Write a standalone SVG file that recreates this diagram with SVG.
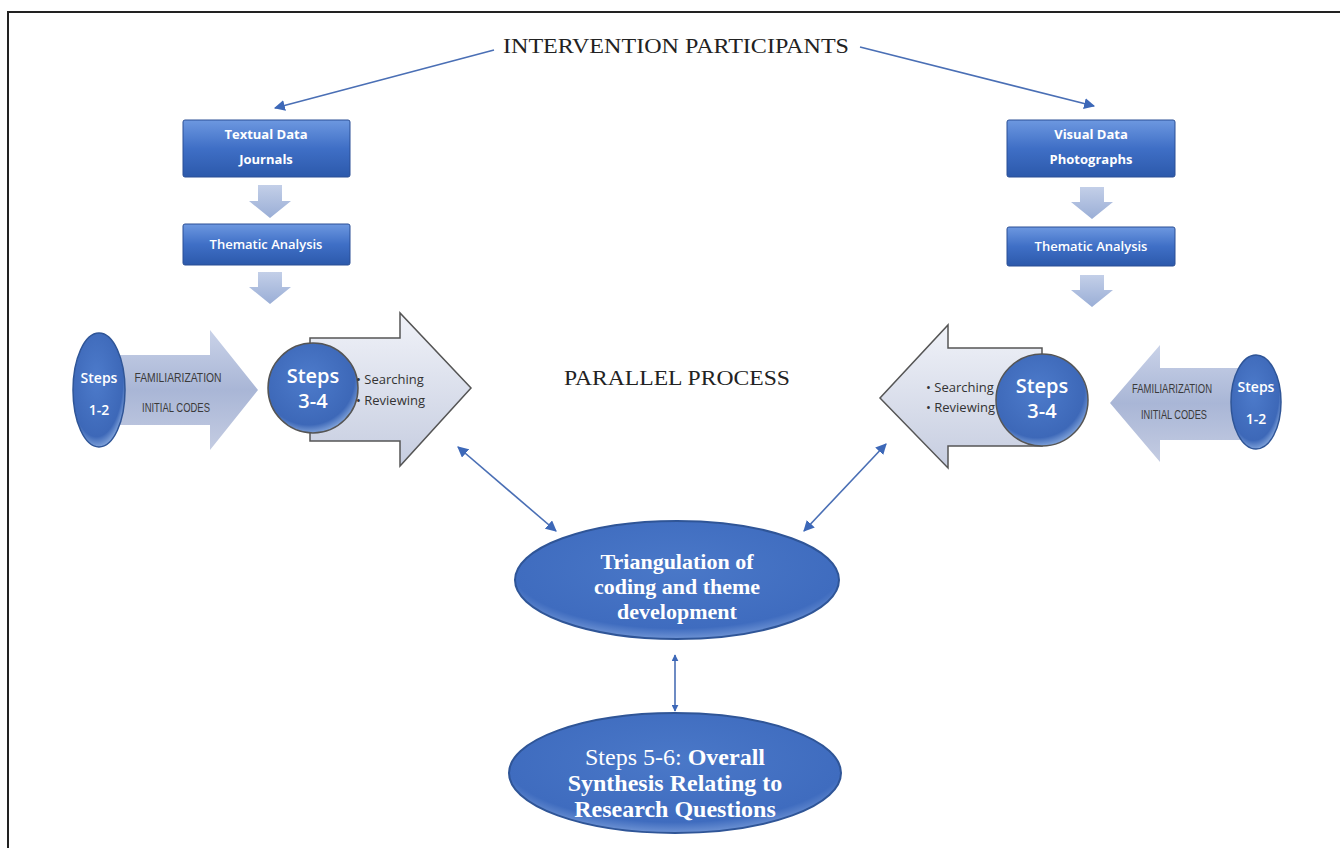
<svg xmlns="http://www.w3.org/2000/svg" width="1340" height="848" viewBox="0 0 1340 848">
<style>
.serif{font-family:"Liberation Serif","Times New Roman",serif}
.boxt{font-family:"Open Sans","Liberation Sans",sans-serif;fill:#fff;font-size:13px;text-anchor:middle}
.cap{font-family:"Liberation Sans",sans-serif;fill:#3a3a3a;font-size:13px;text-anchor:middle}
.bul{font-family:"Open Sans","Liberation Sans",sans-serif;fill:#333;font-size:13px}
.stp{font-family:"Open Sans","Liberation Sans",sans-serif;fill:#fff;text-anchor:middle}
.conn{stroke:#4a6fb5;stroke-width:1.6;fill:none}
.ell{fill:url(#gEll);stroke:#2f5597;stroke-width:2}
.ellt{font-family:"Liberation Serif","Times New Roman",serif;fill:#fff;text-anchor:middle;font-weight:bold}
.chev{fill:url(#gChev)}
.box{fill:url(#gBox);stroke:#2b4f95;stroke-width:1}
.bigarrow{fill:url(#gGrey);stroke:#555;stroke-width:1.5}
.smallarrow{fill:url(#gGreyB)}
</style>
<defs>
<linearGradient id="gBox" x1="0" y1="0" x2="0" y2="1">
<stop offset="0" stop-color="#6d98e0"/><stop offset="0.5" stop-color="#3f6fc6"/><stop offset="1" stop-color="#2c59ab"/>
</linearGradient>
<linearGradient id="gChev" x1="0" y1="0" x2="0" y2="1">
<stop offset="0" stop-color="#c3cfe8"/><stop offset="1" stop-color="#9aaed6"/>
</linearGradient>
<linearGradient id="gGrey" x1="0" y1="0" x2="0" y2="1">
<stop offset="0" stop-color="#f0f2f8"/><stop offset="1" stop-color="#c6cde0"/>
</linearGradient>
<linearGradient id="gGreyB" x1="0" y1="0" x2="0" y2="1">
<stop offset="0" stop-color="#c9d2e8"/><stop offset="0.5" stop-color="#a9b6d6"/><stop offset="1" stop-color="#c4cce2"/>
</linearGradient>
<radialGradient id="gEll" cx="0.5" cy="0.4" r="0.6">
<stop offset="0" stop-color="#4a78c8"/><stop offset="0.85" stop-color="#3f6cbf"/><stop offset="1" stop-color="#6e93d4"/>
</radialGradient>
<radialGradient id="gCirc" cx="0.45" cy="0.4" r="0.6">
<stop offset="0" stop-color="#4d7bcb"/><stop offset="0.85" stop-color="#3d68b8"/><stop offset="1" stop-color="#7c9fd8"/>
</radialGradient>
<marker id="ah" viewBox="0 0 10 10" refX="9" refY="5" markerWidth="7" markerHeight="7" orient="auto-start-reverse" markerUnits="userSpaceOnUse">
<path d="M0,0 L10,5 L0,10 z" fill="#3d68b8"/>
</marker>
<marker id="ah2" viewBox="0 0 10 10" refX="9" refY="5" markerWidth="11" markerHeight="11" orient="auto-start-reverse" markerUnits="userSpaceOnUse">
<path d="M0,0 L10,5 L0,10 z" fill="#3d68b8"/>
</marker>
</defs>
<rect width="1340" height="848" fill="#fff"/>
<path d="M8,848 L8,12 L1340,12" fill="none" stroke="#222" stroke-width="2"/>

<g id="title"><text class="serif" x="676" y="53" font-size="21" text-anchor="middle" fill="#222" textLength="346" lengthAdjust="spacingAndGlyphs">INTERVENTION PARTICIPANTS</text></g>
<g id="parallel"><text class="serif" x="677" y="385" font-size="20" text-anchor="middle" fill="#222" textLength="226" lengthAdjust="spacingAndGlyphs">PARALLEL PROCESS</text></g>

<g id="connectors">
<line class="conn" x1="494" y1="50" x2="275" y2="108" marker-end="url(#ah2)"/>
<line class="conn" x1="860" y1="47" x2="1094" y2="106" marker-end="url(#ah2)"/>
<line class="conn" x1="458" y1="447" x2="556" y2="531" marker-start="url(#ah2)" marker-end="url(#ah2)"/>
<line class="conn" x1="886" y1="444" x2="804" y2="531" marker-start="url(#ah2)" marker-end="url(#ah2)"/>
<line class="conn" x1="675" y1="655" x2="675" y2="711" marker-start="url(#ah)" marker-end="url(#ah)"/>
</g>

<g id="textual">
<rect class="box" x="183" y="120" width="167" height="57" rx="2"/>
<text class="boxt" x="266" y="139" font-weight="bold">Textual Data</text>
<text class="boxt" x="266" y="164" font-weight="bold">Journals</text>
</g>
<g id="chev1"><path class="chev" d="M258,185 H282 V201 H291 L270,218 L249,201 H258 Z"/></g>
<g id="thematic-left">
<rect class="box" x="183" y="224" width="167" height="41" rx="2"/>
<text class="boxt" x="266" y="249" font-weight="600">Thematic Analysis</text>
</g>
<g id="chev2"><path class="chev" d="M258,272 H282 V287 H291 L270,304 L249,287 H258 Z"/></g>

<g id="visual">
<rect class="box" x="1007" y="120" width="168" height="57" rx="2"/>
<text class="boxt" x="1091" y="139" font-weight="bold">Visual Data</text>
<text class="boxt" x="1091" y="164" font-weight="bold">Photographs</text>
</g>
<g id="chev3"><path class="chev" d="M1080,187 H1104 V202 H1113 L1092,219 L1071,202 H1080 Z"/></g>
<g id="thematic-right">
<rect class="box" x="1007" y="227" width="168" height="39" rx="2"/>
<text class="boxt" x="1091" y="251" font-weight="600">Thematic Analysis</text>
</g>
<g id="chev4"><path class="chev" d="M1080,275 H1104 V290 H1113 L1092,307 L1071,290 H1080 Z"/></g>

<g id="steps12-left">
<path class="smallarrow" d="M100,355 H210 V330 L258,390 L210,450 V425 H100 Z"/>
<ellipse cx="99" cy="390" rx="26" ry="57" fill="url(#gCirc)" stroke="#2f5597" stroke-width="1.5"/>
<text class="stp" x="99" y="383" font-size="14" font-weight="600">Steps</text>
<text class="stp" x="99" y="415" font-size="14" font-weight="600">1-2</text>
<text class="cap" x="178" y="382" textLength="87" lengthAdjust="spacingAndGlyphs">FAMILIARIZATION</text>
<text class="cap" x="176" y="412" textLength="68" lengthAdjust="spacingAndGlyphs">INITIAL CODES</text>
</g>

<g id="steps34-left">
<path class="bigarrow" d="M310,338 H400 V313 L471,388 L400,466 V441 H310 Z"/>
<circle cx="313" cy="388" r="45" fill="url(#gCirc)" stroke="#555" stroke-width="1.5"/>
<text class="stp" x="313" y="383" font-size="20" font-weight="600">Steps</text>
<text class="stp" x="313" y="408" font-size="20" font-weight="600">3-4</text>
<text class="bul" x="356" y="384">• Searching</text>
<text class="bul" x="356" y="405">• Reviewing</text>
</g>

<g id="steps34-right">
<path class="bigarrow" d="M1042,348 H948 V325 L880,398 L948,468 V446 H1042 Z"/>
<circle cx="1042" cy="400" r="46" fill="url(#gCirc)" stroke="#555" stroke-width="1.5"/>
<text class="stp" x="1042" y="393" font-size="20" font-weight="600">Steps</text>
<text class="stp" x="1042" y="418" font-size="20" font-weight="600">3-4</text>
<text class="bul" x="926" y="392">• Searching</text>
<text class="bul" x="926" y="412">• Reviewing</text>
</g>

<g id="steps12-right">
<path class="smallarrow" d="M1250,368 H1160 V345 L1110,403 L1160,462 V440 H1250 Z"/>
<ellipse cx="1256" cy="402" rx="25" ry="47" fill="url(#gCirc)" stroke="#2f5597" stroke-width="1.5"/>
<text class="stp" x="1256" y="392" font-size="14" font-weight="600">Steps</text>
<text class="stp" x="1256" y="424" font-size="14" font-weight="600">1-2</text>
<text class="cap" x="1172" y="393" textLength="80" lengthAdjust="spacingAndGlyphs">FAMILIARIZATION</text>
<text class="cap" x="1174" y="419" textLength="66" lengthAdjust="spacingAndGlyphs">INITIAL CODES</text>
</g>

<g id="triangulation">
<ellipse class="ell" cx="677" cy="580" rx="162" ry="59"/>
<text class="ellt" x="677" y="569" font-size="22">Triangulation of</text>
<text class="ellt" x="677" y="594" font-size="22">coding and theme</text>
<text class="ellt" x="677" y="619" font-size="22">development</text>
</g>

<g id="synthesis">
<ellipse class="ell" cx="675" cy="773" rx="166" ry="60"/>
<text class="ellt" x="675" y="765" font-size="24"><tspan font-weight="normal">Steps 5-6: </tspan>Overall</text>
<text class="ellt" x="675" y="791" font-size="24">Synthesis Relating to</text>
<text class="ellt" x="675" y="817" font-size="24">Research Questions</text>
</g>
</svg>
